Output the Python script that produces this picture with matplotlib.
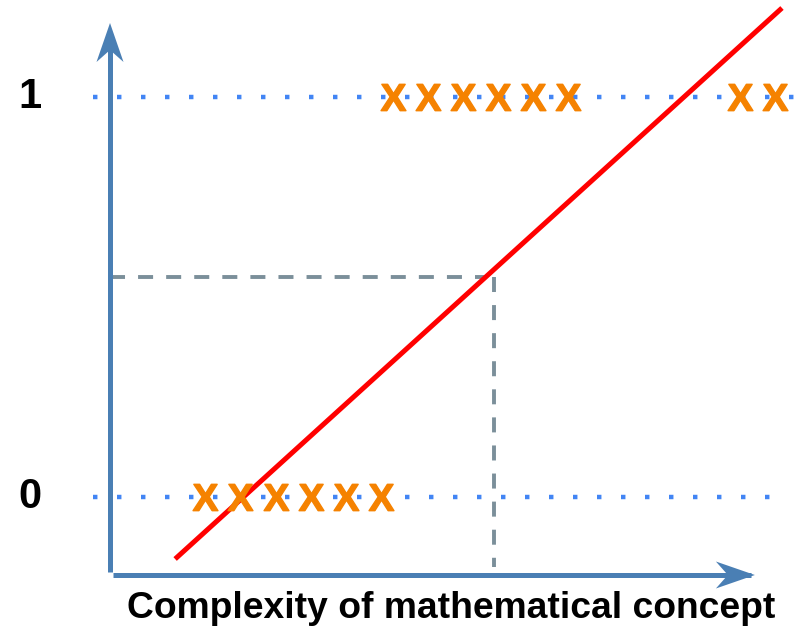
import matplotlib
matplotlib.use("Agg")
import matplotlib.pyplot as plt
import matplotlib.transforms as mtransforms
from matplotlib.patches import Polygon
import numpy as np

plt.rcParams['mathtext.fontset'] = 'custom'
plt.rcParams['mathtext.bf'] = 'Liberation Sans:bold'
plt.rcParams['mathtext.rm'] = 'Liberation Sans'

# ---- data (x: complexity units, y: outcome 0/1) ----
x_zero = [2.7, 3.7, 4.72, 5.72, 6.7, 7.7]
y_zero = [0, 0, 0, 0, 0, 0]
x_one = [8.04, 9.03, 10.03, 11.02, 12.02, 13.01, 17.9, 18.9]
y_one = [1, 1, 1, 1, 1, 1, 1, 1]
line_x = [1.85, 19.09]
line_y = [-0.155, 1.2225]
threshold_x = 10.9
threshold_y = 0.55
ytick_vals = [0, 1]
ytick_labels = ["0", "1"]
xlabel = "Complexity of mathematical concept"

W, H = 810, 632
fig = plt.figure(figsize=(W / 100, H / 100), dpi=100)
ax = fig.add_axes([0, 0, 1, 1])
ax.set_xlim(-3.125, 19.886)
ax.set_ylim(-0.3375, 1.2425)
ax.axis('off')

axis_col = '#4a7fb4'
dot_col = '#4285f4'
orange = '#f58200'
gray = '#7b8f9a'

# dotted reference lines at 0 and 1
dot_ls = (0, (1.0, 4.4))
ax.plot([-0.48, 19.46], [1, 1], color=dot_col, lw=3.2,
        linestyle=dot_ls, dash_capstyle='butt', zorder=1)
ax.plot([-0.48, 18.9], [0, 0], color=dot_col, lw=3.2,
        linestyle=dot_ls, dash_capstyle='butt', zorder=1)

# dashed threshold lines
dash_ls = (0, (3.86, 3.36))
ax.plot([0, threshold_x - 0.18], [threshold_y, threshold_y], color=gray, lw=2.8,
        linestyle=dash_ls, dash_capstyle='butt', zorder=2)
ax.plot([threshold_x, threshold_x], [threshold_y, -0.175], color=gray, lw=2.8,
        linestyle=dash_ls, dash_capstyle='butt', zorder=2)

# axes lines
y_axis_bottom = -0.1875
x_axis_y = -0.195
ax.plot([0, 0], [y_axis_bottom, 1.12], color=axis_col, lw=3.6,
        solid_capstyle='butt', zorder=3)
ax.plot([0.085, 18.2], [x_axis_y, x_axis_y], color=axis_col, lw=3.6,
        solid_capstyle='butt', zorder=3)

# notched arrow heads (in inches relative to tip)
def arrow_head(tip_x, tip_y, direction):
    L, Wd, N = 0.39, 0.135, 0.27
    if direction == 'up':
        verts = [(0, 0), (-Wd, -L), (0, -N), (Wd, -L)]
    else:
        verts = [(0, 0), (-L, Wd), (-N, 0), (-L, -Wd)]
    tr = fig.dpi_scale_trans + mtransforms.ScaledTranslation(tip_x, tip_y, ax.transData)
    ax.add_patch(Polygon(verts, closed=True, transform=tr, facecolor=axis_col,
                         edgecolor='none', zorder=3))

arrow_head(0, 1.185, 'up')
arrow_head(18.32, x_axis_y, 'right')

# red line
ax.plot(line_x, line_y, color='#ff0000', lw=3.6, solid_capstyle='butt', zorder=4)

# X markers
ax.plot(x_zero, y_zero, linestyle='none', marker=r'$\mathbf{X}$', markersize=19,
        color=orange, zorder=5)
ax.plot(x_one, y_one, linestyle='none', marker=r'$\mathbf{X}$', markersize=19,
        color=orange, zorder=5)

# y labels
for v, lab in zip(ytick_vals, ytick_labels):
    ax.text(-2.27, v, lab, ha='center', va='center', fontsize=30,
            fontweight='bold', family='Liberation Sans', color='black')

# x label
ax.text(9.69, -0.3025, xlabel, ha='center', va='baseline', fontsize=26.8,
        fontweight='bold', family='Liberation Sans', color='black')

fig.savefig('out.png', dpi=100)
